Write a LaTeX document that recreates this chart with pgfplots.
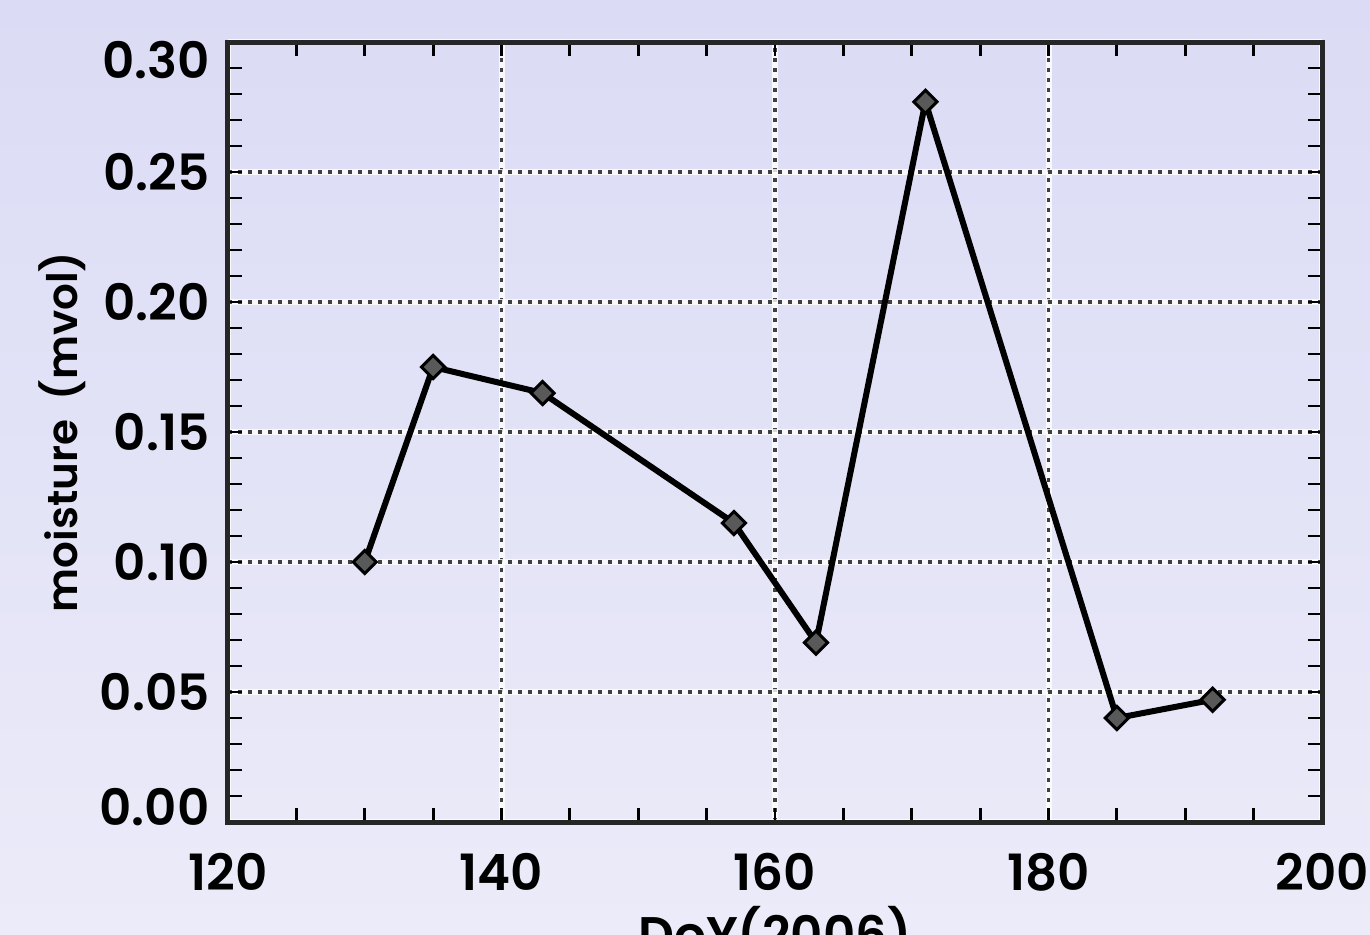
\documentclass[border=0pt]{standalone}
\usepackage{fontspec}
\setmainfont{Poppins SemiBold}
\usepackage{pgfplots}
\pgfplotsset{compat=1.18}
\begin{document}
\begin{tikzpicture}
\useasboundingbox (-114pt,-56pt) rectangle (571pt,411pt);
\clip (-114pt,-56pt) rectangle (571pt,411pt);
\shade[top color={rgb,255:red,219;green,219;blue,245}, bottom color={rgb,255:red,235;green,235;blue,249}] (-114pt,-56pt) rectangle (571pt,411pt);
\begin{axis}[
  at={(0,0)}, anchor=south west, scale only axis,
  width=547pt, height=390pt,
  xmin=120, xmax=200, ymin=0, ymax=0.30,
  xtick={120,140,160,180,200},
  ytick={0,0.05,0.10,0.15,0.20,0.25,0.30},
  xticklabels={120,140,160,180,200},
  yticklabels={\raisebox{7.5pt}[\height][\depth]{0.00},0.05,0.10,0.15,0.20,0.25,\raisebox{-9pt}[\height][\depth]{0.30}},
  minor x tick num=3, minor y tick num=4,
  tick align=inside, major tick length=7pt, minor tick length=7pt,
  tick style={black, line width=1.4pt},
  grid=major,
  major grid style={white, line width=3pt, opacity=0.8, postaction={draw=black!75, opacity=1, line width=1.8pt, dash pattern=on 1.8pt off 3.2pt}},
  axis line style={black!85, line width=2.5pt},
  xticklabel style={font=\fontsize{25}{30}\selectfont, inner sep=0pt, anchor=center, yshift=-25pt},
  yticklabel style={font=\fontsize{25}{30}\selectfont, inner sep=0pt, anchor=east, xshift=-9pt},
  xlabel={DoY(2006)},
  ylabel={moisture\ \ (mvol)},
  every axis x label/.style={at={(axis description cs:0.5,-0.108)}, anchor=north, inner sep=0pt, font=\fontsize{25}{30}\selectfont},
  every axis y label/.style={at={(axis description cs:-0.1517,0.5)}, anchor=center, rotate=90, inner sep=0pt, font=\fontsize{21}{26}\selectfont},
]
\addplot[black, line width=3pt, mark=square*, mark size=4.1pt,
  mark options={rotate=45, fill=black!65, draw=black, line width=1.5pt, solid}]
  coordinates {(130,0.100) (135,0.175) (143,0.165) (157,0.115) (163,0.069) (171,0.277) (185,0.040) (192,0.047)};
\end{axis}
\end{tikzpicture}
\end{document}
